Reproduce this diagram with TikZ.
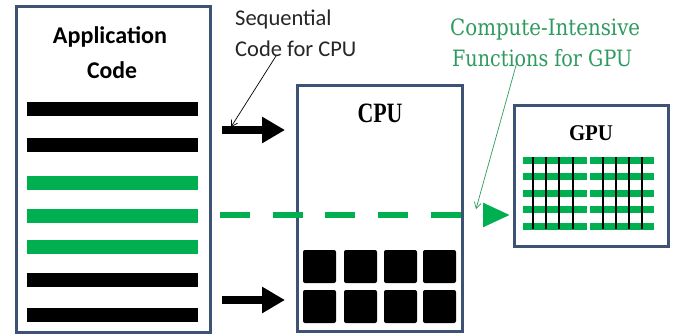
\documentclass[tikz,border=0pt]{standalone}
\usepackage{fontspec}
\usepackage{graphicx}
\newfontfamily\calib{Carlito}
\newfontfamily\tms{Liberation Serif}
\newfontfamily\slab{DejaVu Serif}
\usetikzlibrary{arrows.meta}
\definecolor{boxblue}{RGB}{62,82,118}
\definecolor{ggreen}{RGB}{0,176,80}
\definecolor{tgreen}{RGB}{45,155,95}
\tikzset{
  panel/.style={draw=boxblue, line width=3pt, fill=white, inner sep=0pt, anchor=north west},
  bigarrow/.style={line width=8pt, -{Triangle[length=23pt,width=25pt]}},
  greenarrow/.style={ggreen, line width=5.5pt, dash pattern=on 30pt off 22.7pt, -{Triangle[length=27pt,width=23pt]}},
  pointer/.style={line width=0.7pt, -{Straight Barb[length=6pt,width=7pt]}},
}
\begin{document}
\begin{tikzpicture}[x=1pt,y=-1pt]
\useasboundingbox (0,0) rectangle (678,333);
\fill[white] (0,0) rectangle (678,333);

% boxes
\node[panel, minimum width=194pt, minimum height=326pt] (app) at (15,5) {};
\node[panel, minimum width=165pt, minimum height=246pt] (cpu) at (296,84) {};
\node[panel, minimum width=154pt, minimum height=141pt] (gpu) at (513,104) {};

% application code title
\node[anchor=base, font=\calib\bfseries\fontsize{24}{28}\selectfont] (apptitle) at (110,43) {\resizebox{114pt}{\height}{Application}};
\node[anchor=base, font=\calib\bfseries\fontsize{24}{28}\selectfont] (apptitle2) at (112,78) {\resizebox{50pt}{\height}{Code}};

% code bars
\foreach \y/\c in {109/black,145/black,183/ggreen,216/ggreen,247/ggreen,280/black,315/black}
  \fill[\c] (27,\y-7) rectangle (198,\y+7);

% CPU / GPU labels
\node[anchor=base, font=\tms\bfseries\fontsize{28}{30}\selectfont] (cpulabel) at (380,122) {\resizebox{45pt}{\height}{CPU}};
\node[anchor=base, font=\tms\bfseries\fontsize{22.5}{26}\selectfont] (gpulabel) at (591,140) {\resizebox{44pt}{\height}{GPU}};

% CPU cores
\foreach \x in {303,344,384,423}
  \foreach \y in {250,290}
    \fill[black, rounded corners=2pt] (\x,\y) rectangle ++(33,33);

% GPU cores
\foreach \bx in {523,590}{
  \foreach \i in {0,...,4}
    \fill[ggreen] (\bx,{160+16.6*\i-3.5}) rectangle ++(64,7);
}
\foreach \x in {533,546,559,573,603,616,629,642}
  \draw[black, line width=2pt] (\x,157) -- (\x,229);

% arrows
\coordinate (a1s) at (222,130);
\coordinate (a1e) at (285,130);
\coordinate (a2s) at (222,300);
\coordinate (a2e) at (285,300);
\coordinate (gs) at (220,215);
\coordinate (ge) at (510,215);
\draw[bigarrow] (a1s) -- (a1e);
\draw[bigarrow] (a2s) -- (a2e);
\draw[greenarrow] (gs) -- (ge);

% annotations
\node[anchor=base west, font=\calib\fontsize{22.5}{28}\selectfont, text=black!85, inner sep=0pt] (seq1) at (235,25) {Sequential};
\node[anchor=base west, font=\calib\fontsize{22.5}{28}\selectfont, text=black!85, inner sep=0pt] (seq2) at (235,56) {Code for CPU};
\node[anchor=base west, font=\slab\fontsize{22.5}{26}\selectfont, text=tgreen, inner sep=0pt] (cmp1) at (450,35) {\resizebox{190pt}{\height}{Compute-Intensive}};
\node[anchor=base west, font=\slab\fontsize{22.5}{26}\selectfont, text=tgreen, inner sep=0pt] (cmp2) at (452,66) {\resizebox{180pt}{\height}{Functions for GPU}};

\coordinate (p1s) at (276,56);
\coordinate (p1e) at (231,127);
\coordinate (p2s) at (517,62);
\coordinate (p2e) at (476,209);
\draw[pointer, black] (p1s) -- (p1e);
\draw[pointer, tgreen] (p2s) -- (p2e);
\end{tikzpicture}
\end{document}
